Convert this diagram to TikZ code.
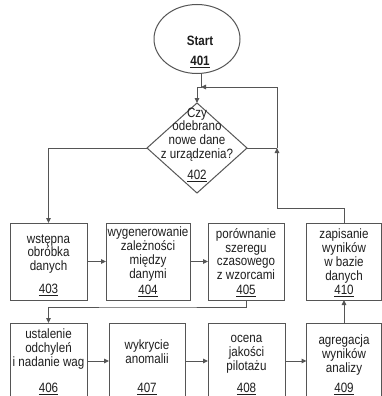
\documentclass[tikz,border=0pt]{standalone}
\usepackage{fontspec}
\setmainfont[FakeStretch=0.86]{Liberation Sans}
\usetikzlibrary{arrows.meta,shapes.geometric}
\definecolor{linegray}{HTML}{555555}
\definecolor{textgray}{HTML}{1E1E1E}
\begin{document}
\begin{tikzpicture}[x=1pt,y=-1pt,
  shp/.style={draw=linegray, line width=1pt, inner sep=0pt, outer sep=0pt},
  box/.style={shp, rectangle},
  conn/.style={draw=linegray, line width=1pt},
  arr/.style={conn, -{Triangle[length=5pt,width=4.5pt]}},
  txt/.style={align=center, font=\fontsize{13.5}{13.8}\selectfont, text=textgray, inner sep=0pt},
  num/.style={font=\fontsize{13.5}{13.8}\selectfont, text=textgray, inner sep=0pt}]
\useasboundingbox (0,0) rectangle (382,396);
\clip (0,0) rectangle (382,396);
\fill[white] (0,0) rectangle (382,396);

% start
\draw[shp] (197,39) ellipse [x radius=43pt, y radius=34.5pt];
\node[txt, font=\fontsize{13.5}{13.8}\selectfont\bfseries] (startt) at (200,41) {Start};
\node[num, font=\fontsize{13.5}{13.8}\selectfont\bfseries] (n401) at (200,62) {\underline{401}};

% decision
\node[shp, diamond, minimum width=100pt, minimum height=90pt] (dec) at (197,148) {};
\node[txt] (dect) at (197,134.5) {Czy\\odebrano\\nowe dane\\z urządzenia?};
\node[num] (n402) at (197,176) {\underline{402}};

% top row boxes
\node[box, minimum width=77pt, minimum height=77pt] (b403) at (48.5,261.5) {};
\node[box, minimum width=84pt, minimum height=77pt] (b404) at (148,261.5) {};
\node[box, minimum width=76pt, minimum height=77pt] (b405) at (246,261.5) {};
\node[box, minimum width=75pt, minimum height=77pt] (b410) at (344,261.5) {};

% bottom row boxes (cut by the lower edge)
\node[box, minimum width=77pt, minimum height=76pt] (b406) at (48.5,361) {};
\node[box, minimum width=76pt, minimum height=76pt] (b407) at (147,361) {};
\node[box, minimum width=77pt, minimum height=76pt] (b408) at (246.5,361) {};
\node[box, minimum width=75pt, minimum height=76pt] (b409) at (344,361) {};

% texts
\node[txt] (t403) at (48.5,254) {wstępna\\obróbka\\danych};
\node[num] (n403) at (48.5,290) {\underline{403}};
\node[txt] (t404) at (148,254) {wygenerowanie\\zależności\\między\\danymi};
\node[num] (n404) at (148,291) {\underline{404}};
\node[txt] (t405) at (246,254) {porównanie\\szeregu\\czasowego\\z wzorcami};
\node[num] (n405) at (246,291) {\underline{405}};
\node[txt] (t410) at (344,256) {zapisanie\\wyników\\w bazie\\danych};
\node[num] (n410) at (344,291) {\underline{410}};

\node[txt] (t406) at (48.5,349) {ustalenie\\odchyleń\\i nadanie wag};
\node[num] (n406) at (48.5,389) {\underline{406}};
\node[txt] (t407) at (147,352) {wykrycie\\anomalii};
\node[num] (n407) at (147,389) {\underline{407}};
\node[txt] (t408) at (246.5,354) {ocena\\jakości\\pilotażu};
\node[num] (n408) at (246.5,389) {\underline{408}};
\node[txt] (t409) at (344,355) {agregacja\\wyników\\analizy};
\node[num] (n409) at (344,389) {\underline{409}};

% helper coordinates
\coordinate (s0) at (201,73.3);
\coordinate (j1) at (201,87);
\coordinate (j2) at (197,87);
\coordinate (c1) at (277,208);
\coordinate (c2) at (277,148);
\coordinate (c3) at (148,307);

% connectors
\draw[conn] (s0) -- (j1) -- (j2);
\draw[arr] (j2) -- (dec.north);
\draw[arr] (dec.west) -| (b403.north);
\draw[arr] (b403.east) -- (b404.west);
\draw[arr] (b404.east) -- (b405.west);
\draw[arr] (b405.south) |- (c3) -| (b406.north);
\draw[arr] (b406.east) -- (b407.west);
\draw[arr] (b407.east) -- (b408.west);
\draw[arr] (b408.east) -- (b409.west);
\draw[arr] (b409.north) -- (b410.south);
\draw[conn] (b410.north) |- (c1);
\draw[arr] (c1) -- (c2);
\draw[conn] (dec.east) -- (c2);
\draw[arr] (c2) |- (j1);
\end{tikzpicture}
\end{document}
